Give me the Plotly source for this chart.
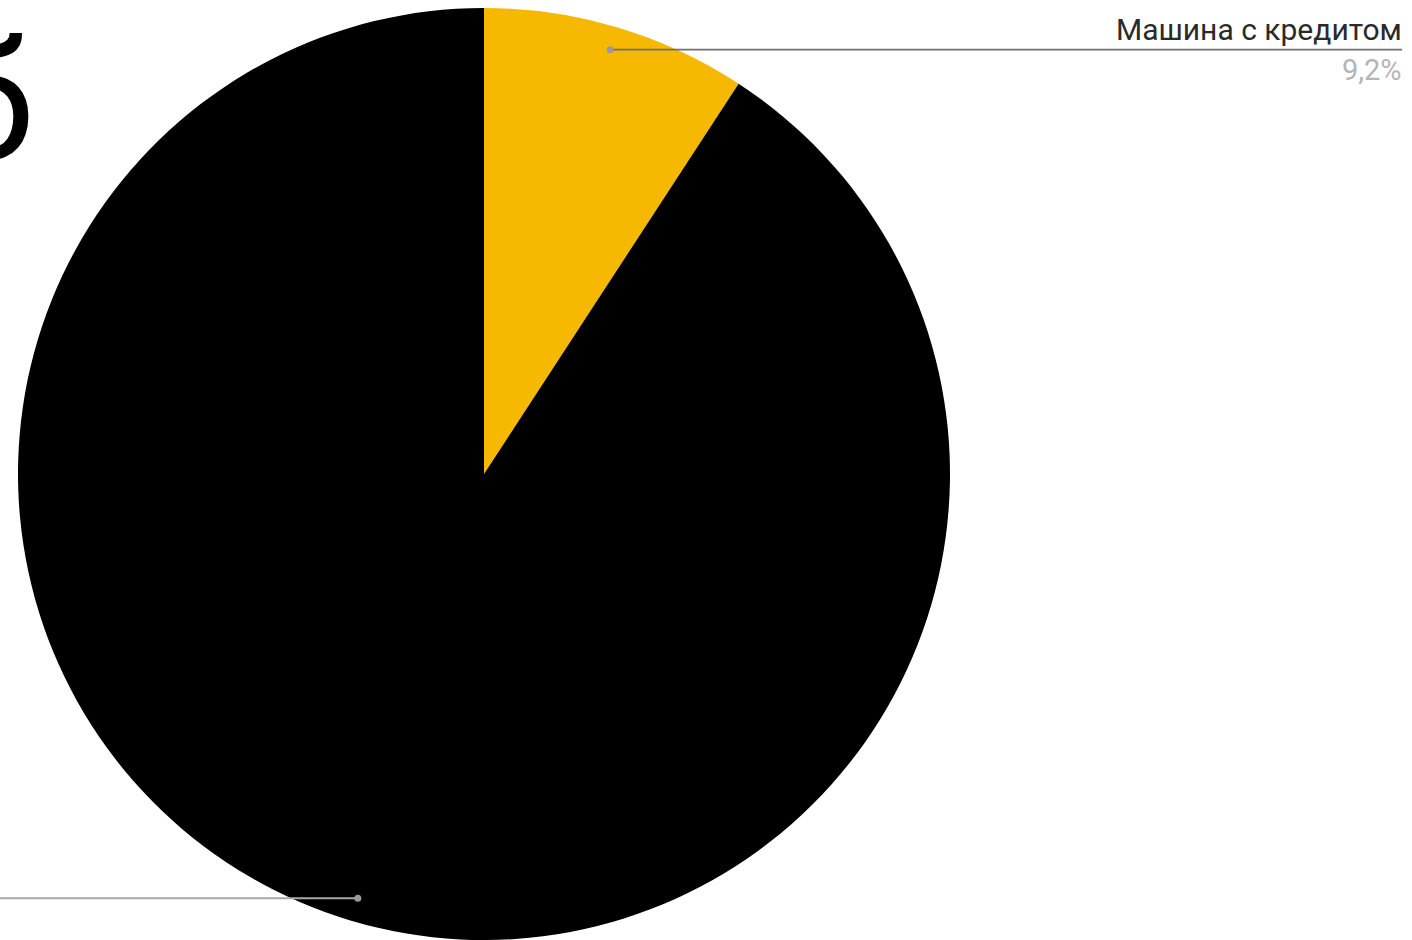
import math
import plotly.graph_objects as go

labels = ['Машина с кредитом', 'Машина без кредита']
values = [9.2, 90.8]
colors = ['#F6B800', '#000000']
shown_label = 'Машина с кредитом'
shown_pct = '9,2%'

W, H = 1412, 940
top = 8
plot_h = H - top
radius_px = plot_h / 2
cx_px = 484

dom_x = [(cx_px - radius_px) / W, (cx_px + radius_px) / W]

fig = go.Figure(go.Pie(
    labels=labels,
    values=values,
    marker=dict(colors=colors, line=dict(width=0)),
    sort=False,
    direction='clockwise',
    rotation=0,
    textinfo='none',
    hoverinfo='label+percent',
    domain=dict(x=dom_x, y=[0, 1]),
    showlegend=False,
))


# leader dot positions from slice mid-angles
def dot_pos(i, frac=0.95):
    total = sum(values)
    start = sum(values[:i]) / total
    mid = (start + values[i] / total / 2) * 2 * math.pi
    x = cx_px + frac * radius_px * math.sin(mid)
    y = top + radius_px - frac * radius_px * math.cos(mid)
    return x / W, 1 - (y - top) / plot_h


shapes = []
x0, y0 = dot_pos(0)
shapes.append(dict(type='line', xref='paper', yref='paper', x0=x0, y0=y0,
                   x1=1402 / W, y1=y0, line=dict(color='#6f6f6f', width=1.6)))
x1, y1 = dot_pos(1)
shapes.append(dict(type='line', xref='paper', yref='paper', x0=x1, y0=y1,
                   x1=0, y1=y1, line=dict(color='#a8a8a8', width=2)))
for (dx, dy) in [(x0, y0), (x1, y1)]:
    r = 3.5
    shapes.append(dict(type='circle', xref='paper', yref='paper', xsizemode='pixel',
                       ysizemode='pixel', xanchor=dx, yanchor=dy,
                       x0=-r, x1=r, y0=-r, y1=r,
                       fillcolor='#9a9a9a', line=dict(width=0)))

annotations = [
    dict(text=shown_label, xref='paper', yref='paper', x=1404 / W, y=y0,
         xanchor='right', yanchor='bottom', showarrow=False, yshift=1,
         font=dict(family='Roboto', size=30, color='#2a2a2a')),
    dict(text=shown_pct, xref='paper', yref='paper', x=1404 / W, y=y0,
         xanchor='right', yanchor='top', showarrow=False, yshift=-1,
         font=dict(family='Roboto', size=29, color='#b5b5b5')),
    dict(text='б', xref='paper', yref='paper', x=36 / W, y=1, yshift=top - 2,
         xanchor='right', yanchor='top', showarrow=False,
         font=dict(family='Roboto', size=166, color='#000000')),
]

fig.update_layout(
    width=W, height=H,
    margin=dict(l=0, r=0, t=top, b=0),
    paper_bgcolor='white',
    plot_bgcolor='white',
    shapes=shapes,
    annotations=annotations,
)

fig.write_html("out.html", config={'displayModeBar': False},
               post_script="document.body.style.margin='0';")
